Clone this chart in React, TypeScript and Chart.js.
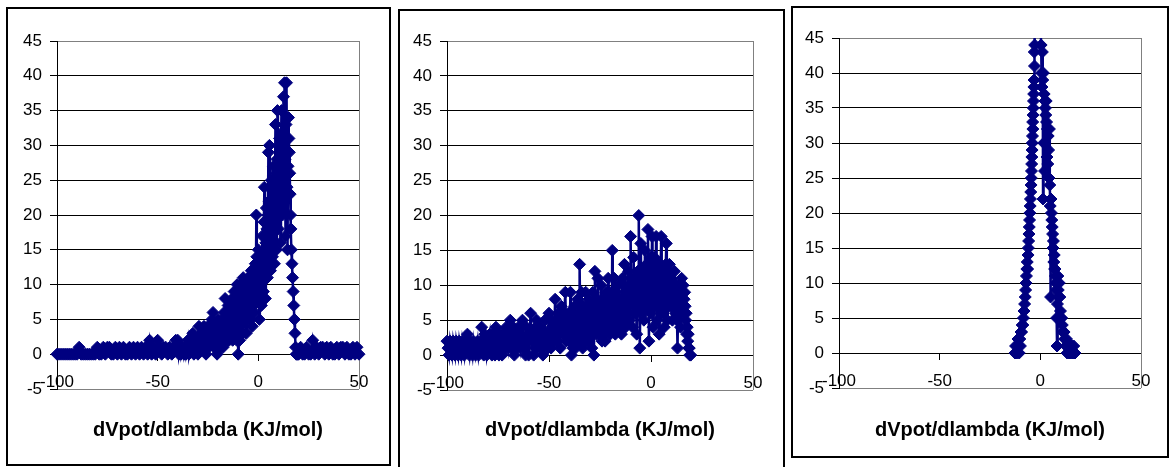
import React, { useEffect, useRef } from "react";
import { Chart, registerables } from "chart.js";

Chart.register(...registerables);

type Pt = [number, number];

// ---- shared axis data ----
const xTickValues = [-100, -50, 0, 50];
const yTickValues = [-5, 0, 5, 10, 15, 20, 25, 30, 35, 40, 45];
const axisTitle = "dVpot/dlambda (KJ/mol)";

// ---- panel 1 ----
const p1LeftTail: Pt[] = [
  [-100, 0], [-99, 0], [-98, 0], [-97, 0], [-96, 0], [-95, 0], [-94, 0], [-93, 0], [-92, 0], [-91, 0],
  [-90, 0], [-89, 1], [-88, 0], [-87, 0], [-86, 0], [-85, 0], [-84, 0], [-83, 0], [-82, 0], [-81, 0],
  [-80, 1], [-79, 0], [-78, 0], [-77, 1], [-76, 0], [-75, 1], [-74, 1], [-73, 0], [-72, 0], [-71, 1],
  [-70, 0], [-69, 1], [-68, 0], [-67, 1], [-66, 0], [-65, 0], [-64, 1], [-63, 0], [-62, 1], [-61, 0],
  [-60, 1], [-59, 0], [-58, 1], [-57, 0], [-56, 1], [-55, 0], [-54, 2], [-53, 0], [-52, 1], [-51, 0],
  [-50, 2], [-49, 1], [-48, 0], [-47, 1], [-46, 1], [-45, 0], [-44, 1], [-43, 0], [-42, 1], [-41, 2],
];
const p1Rise: Pt[] = [
  [-40, 2], [-39.5, 0], [-39, 1], [-38.5, 0], [-38, 1], [-37.5, 1], [-37, 0], [-36.5, 1], [-36, 0], [-35.5, 1],
  [-35, 2], [-34.5, 0], [-34, 1], [-33.5, 2], [-33, 1], [-32.5, 3], [-32, 0], [-31.5, 2], [-31, 1], [-30.5, 2],
  [-30, 0], [-29.5, 4], [-29, 1], [-28.5, 2], [-28, 3], [-27.5, 1], [-27, 4], [-26.5, 2], [-26, 0], [-25.5, 3],
  [-25, 4], [-24.5, 1], [-24, 3], [-23.5, 2], [-23, 5], [-22.5, 6], [-22, 1], [-21.5, 3], [-21, 4], [-20.5, 0],
  [-20, 5], [-19.75, 3], [-19.5, 2], [-19.25, 4], [-19, 4], [-18.75, 1], [-18.5, 3], [-18.25, 2], [-18, 5], [-17.75, 3],
  [-17.5, 1], [-17.25, 4], [-17, 6], [-16.75, 2], [-16.5, 8], [-16.25, 4], [-16, 3], [-15.75, 6], [-15.5, 5], [-15.25, 2],
  [-15, 7], [-14.75, 4], [-14.5, 2], [-14.25, 5], [-14, 6], [-13.75, 3], [-13.5, 4], [-13.25, 7], [-13, 8], [-12.75, 2],
  [-12.5, 5], [-12.25, 7], [-12, 9], [-11.75, 4], [-11.5, 3], [-11.25, 8], [-11, 7], [-10.75, 2], [-10.5, 10], [-10.25, 5],
  [-10, 0], [-9.75, 7], [-9.5, 6], [-9.25, 2], [-9, 10], [-8.75, 6], [-8.5, 4], [-8.25, 8], [-8, 9], [-7.75, 3],
  [-7.5, 11], [-7.25, 7], [-7, 5], [-6.75, 8], [-6.5, 10], [-6.25, 6], [-6, 3], [-5.75, 7], [-5.5, 9], [-5.25, 5],
  [-5, 11], [-4.75, 8], [-4.5, 6], [-4.25, 9], [-4, 10], [-3.75, 5], [-3.5, 12], [-3.25, 8],
];
const p1Peak: Pt[] = [
  [-3, 4], [-2.75, 9], [-2.5, 12], [-2.25, 7], [-2, 6], [-1.75, 10], [-1.5, 13], [-1.25, 9], [-1, 20], [-0.75, 14],
  [-0.5, 8], [-0.25, 12], [0, 15], [0.25, 10], [0.5, 5], [0.75, 11], [1, 14], [1.25, 9], [1.5, 7], [1.75, 13],
  [2, 17], [2.25, 12], [2.5, 9], [2.75, 19], [3, 24], [3.25, 15], [3.5, 8], [3.75, 16], [4, 21], [4.25, 18],
  [4.5, 11], [4.75, 20], [5, 29], [5.25, 22], [5.5, 30], [5.75, 19], [6, 12], [6.25, 18], [6.5, 25], [6.75, 20],
  [7, 14], [7.25, 22], [7.5, 27], [7.75, 19], [8, 13], [8.25, 24], [8.5, 33], [8.75, 26], [9, 15], [9.25, 28],
  [9.5, 35], [9.75, 24], [10, 18], [10.25, 27], [10.5, 31], [10.75, 22], [11, 16], [11.25, 30], [11.5, 35], [11.75, 26],
  [12, 20], [12.25, 32], [12.5, 37], [12.75, 29], [13, 39], [13.25, 28], [13.5, 17], [13.75, 33], [14, 39], [14.25, 24],
  [14.5, 15], [14.75, 27],
];
const p1Drop: Pt[] = [
  [15, 34], [15.2, 31], [15.4, 29], [15.6, 26], [15.8, 23], [16, 20], [16.2, 18], [16.4, 15], [16.7, 13],
  [17, 11], [17.3, 9], [17.6, 7], [17.9, 5], [18.2, 3], [18.5, 1], [18.8, 0], [19.2, 0], [19.6, 0],
];
const p1RightTail: Pt[] = [
  [20, 0], [21, 1], [22, 0], [23, 0], [24, 1], [25, 0], [26, 0], [27, 2], [28, 0], [29, 1],
  [30, 0], [31, 1], [32, 1], [33, 0], [34, 1], [35, 0], [36, 1], [37, 0], [38, 0], [39, 1],
  [40, 0], [41, 1], [42, 1], [43, 0], [44, 1], [45, 0], [46, 0], [47, 1], [48, 0], [49, 1], [50, 0],
];

// ---- panel 2 ----
const p2LeftTail: Pt[] = [
  [-100, 2], [-99.5, 1], [-99, 0], [-98.5, 2], [-98, 1], [-97.5, 0], [-97, 2], [-96.5, 1], [-96, 0], [-95.5, 2],
  [-95, 1], [-94.5, 0], [-94, 2], [-93.5, 1], [-93, 0], [-92.5, 2], [-92, 1], [-91.5, 0], [-91, 2], [-90.5, 1],
  [-90, 3], [-89.5, 1], [-89, 0], [-88.5, 2], [-88, 1], [-87.5, 0], [-87, 2], [-86.5, 1], [-86, 0], [-85.5, 1],
  [-85, 2], [-84.5, 0], [-84, 1], [-83.5, 2], [-83, 4], [-82.5, 1], [-82, 0], [-81.5, 3], [-81, 2], [-80.5, 0],
  [-80, 1], [-79.5, 2], [-79, 3], [-78.5, 1], [-78, 0], [-77.5, 3], [-77, 2], [-76.5, 0], [-76, 4], [-75.5, 2],
  [-75, 1], [-74.5, 0], [-74, 3], [-73.5, 2], [-73, 0], [-72.5, 3], [-72, 2], [-71.5, 1], [-71, 4], [-70.5, 2],
  [-70, 1], [-69.5, 3], [-69, 5], [-68.5, 1], [-68, 2], [-67.5, 4], [-67, 0], [-66.5, 2], [-66, 3], [-65.5, 1],
  [-65, 4], [-64.5, 2], [-64, 1], [-63.5, 3], [-63, 5], [-62.5, 1], [-62, 2], [-61.5, 0], [-61, 4], [-60.5, 2],
  [-60, 0], [-59.5, 3], [-59, 6], [-58.5, 2], [-58, 3], [-57.5, 0], [-57, 1], [-56.5, 4], [-56, 5], [-55.5, 1],
  [-55, 2], [-54.5, 3], [-54, 4], [-53.5, 1], [-53, 0], [-52.5, 3], [-52, 5], [-51.5, 2], [-51, 3], [-50.5, 1],
  [-50, 6], [-49.5, 3], [-49, 1], [-48.5, 5], [-48, 4], [-47.5, 2], [-47, 8], [-46.5, 3], [-46, 2], [-45.5, 6],
  [-45, 5], [-44.5, 1], [-44, 7], [-43.5, 4], [-43, 3], [-42.5, 6], [-42, 9], [-41.5, 2], [-41, 4], [-40.5, 6],
];
const p2Mid: Pt[] = [
  [-40, 2], [-39.75, 5], [-39.5, 9], [-39.25, 4], [-39, 0], [-38.75, 3], [-38.5, 6], [-38.25, 1], [-38, 3], [-37.75, 5],
  [-37.5, 7], [-37.25, 2], [-37, 1], [-36.75, 4], [-36.5, 5], [-36.25, 2], [-36, 8], [-35.75, 4], [-35.5, 2], [-35.25, 6],
  [-35, 13], [-34.75, 7], [-34.5, 4], [-34.25, 2], [-34, 9], [-33.75, 5], [-33.5, 1], [-33.25, 4], [-33, 7], [-32.75, 5],
  [-32.5, 3], [-32.25, 6], [-32, 9], [-31.75, 2], [-31.5, 5], [-31.25, 7], [-31, 2], [-30.75, 4], [-30.5, 8], [-30.25, 3],
  [-30, 4], [-29.75, 7], [-29.5, 6], [-29.25, 3], [-29, 1], [-28.75, 5], [-28.5, 9], [-28.25, 4], [-28, 0], [-27.75, 6],
  [-27.5, 12], [-27.25, 7], [-27, 5], [-26.75, 3], [-26.5, 8], [-26.25, 5], [-26, 11], [-25.75, 6], [-25.5, 3], [-25.25, 5],
  [-25, 7], [-24.75, 4], [-24.5, 10], [-24.25, 6], [-24, 2], [-23.75, 5], [-23.5, 8], [-23.25, 3], [-23, 5], [-22.75, 7],
  [-22.5, 2], [-22.25, 5], [-22, 9], [-21.75, 6], [-21.5, 4], [-21.25, 8], [-21, 11], [-20.75, 4], [-20.5, 6], [-20.25, 9],
  [-20, 3], [-19.75, 6], [-19.5, 8], [-19.25, 4], [-19, 15], [-18.75, 7], [-18.5, 5], [-18.25, 9], [-18, 11], [-17.75, 6],
  [-17.5, 3], [-17.25, 7], [-17, 9], [-16.75, 4], [-16.5, 6], [-16.25, 8], [-16, 10], [-15.75, 5], [-15.5, 4], [-15.25, 7],
  [-15, 8], [-14.75, 5], [-14.5, 3], [-14.25, 7], [-14, 11], [-13.75, 8], [-13.5, 6], [-13.25, 4], [-13, 13], [-12.75, 7],
  [-12.5, 4], [-12.25, 8], [-12, 9], [-11.75, 5], [-11.5, 7], [-11.25, 10], [-11, 12], [-10.75, 6], [-10.5, 5], [-10.25, 9],
];
const p2Peak: Pt[] = [
  [-10, 17], [-9.75, 11], [-9.5, 8], [-9.25, 10], [-9, 4], [-8.75, 9], [-8.5, 14], [-8.25, 7], [-8, 6], [-7.75, 11],
  [-7.5, 10], [-7.25, 6], [-7, 3], [-6.75, 8], [-6.5, 12], [-6.25, 9], [-6, 20], [-5.75, 10], [-5.5, 1], [-5.25, 7],
  [-5, 16], [-4.75, 10], [-4.5, 7], [-4.25, 12], [-4, 11], [-3.75, 6], [-3.5, 5], [-3.25, 9], [-3, 15], [-2.75, 10],
  [-2.5, 8], [-2.25, 13], [-2, 12], [-1.75, 7], [-1.5, 18], [-1.25, 9], [-1, 2], [-0.75, 8], [-0.5, 10], [-0.25, 14],
  [0, 6], [0.25, 10], [0.5, 17], [0.75, 9], [1, 4], [1.25, 8], [1.5, 11], [1.75, 14], [2, 7], [2.25, 10],
  [2.5, 17], [2.75, 12], [3, 5], [3.25, 9], [3.5, 13], [3.75, 8], [4, 3], [4.25, 10], [4.5, 9], [4.75, 13],
  [5, 17], [5.25, 11], [5.5, 6], [5.75, 10], [6, 12], [6.25, 8], [6.5, 4], [6.75, 9], [7, 10], [7.25, 13],
  [7.5, 16], [7.75, 9], [8, 5], [8.25, 8], [8.5, 9], [8.75, 12], [9, 13], [9.25, 8], [9.5, 7], [9.75, 10],
  [10, 11], [10.25, 8], [10.5, 5], [10.75, 9], [11, 8], [11.25, 10], [11.5, 12], [11.75, 7], [12, 6], [12.25, 9],
  [12.5, 10], [12.75, 5], [13, 1], [13.25, 6], [13.5, 7], [13.75, 10], [14, 9], [14.25, 6], [14.5, 4], [14.75, 8],
  [15, 11], [15.25, 9], [15.5, 8], [15.75, 10], [16, 6], [16.25, 8], [16.5, 9], [16.75, 7], [17, 5], [17.25, 6],
  [17.5, 3], [17.75, 4], [18, 2], [18.25, 3], [18.5, 1], [18.75, 1], [19, 0], [19.5, 0],
];

// ---- panel 3 ----
const p3Left: Pt[] = [
  [-12.6, 0], [-12.3, 1], [-12, 0], [-11.7, 1], [-11.4, 0], [-11.1, 2], [-10.8, 1], [-10.5, 0], [-10.2, 2], [-9.9, 1],
  [-9.6, 3], [-9.3, 3], [-9, 4], [-8.7, 4], [-8.4, 5], [-8.1, 6], [-7.8, 7], [-7.5, 8], [-7.3, 9], [-7.1, 10],
  [-6.9, 11], [-6.7, 12], [-6.5, 13], [-6.3, 12], [-6.1, 14], [-5.95, 15], [-5.8, 16], [-5.65, 17], [-5.5, 18], [-5.35, 19],
  [-5.2, 20], [-5.05, 21], [-4.9, 22], [-4.75, 23], [-4.6, 24], [-4.5, 25], [-4.4, 26], [-4.3, 27], [-4.2, 28], [-4.1, 29],
  [-4, 30], [-3.9, 31], [-3.8, 33], [-3.7, 32], [-3.6, 34], [-3.5, 35], [-3.4, 36], [-3.3, 37], [-3.2, 38], [-3.1, 39],
  [-3, 43], [-2.9, 41], [-2.8, 44],
];
const p3Top: Pt[] = [
  [-2.6, 48], [-2.3, 53], [-2, 58], [-1.6, 61], [-1.2, 63], [-0.8, 60], [-0.4, 55], [0, 49],
];
const p3Right: Pt[] = [
  [0.2, 46], [0.4, 44], [0.6, 40], [0.8, 38], [1, 43], [1.2, 39], [1.35, 22], [1.5, 40], [1.7, 30], [1.9, 37],
  [2.1, 26], [2.3, 36], [2.5, 35], [2.7, 34], [2.9, 36], [3.1, 33], [3.3, 28], [3.5, 32], [3.7, 27], [3.9, 31],
  [4.1, 29], [4.3, 25], [4.5, 32], [4.7, 24], [4.9, 21], [5.1, 8], [5.3, 22], [5.5, 20], [5.7, 19], [5.9, 18],
  [6.1, 17], [6.3, 15], [6.5, 16], [6.7, 13], [6.9, 14], [7.1, 12], [7.3, 12], [7.5, 11], [7.7, 10], [7.9, 9],
  [8.1, 5], [8.3, 1], [8.5, 7], [8.7, 11], [8.9, 9], [9.1, 8], [9.4, 10], [9.7, 8], [10, 6], [10.3, 5],
  [10.6, 5], [10.9, 4], [11.2, 3], [11.5, 3], [11.8, 3], [12.1, 2], [12.4, 2], [12.7, 1], [13, 2], [13.3, 0],
  [13.6, 1], [13.9, 1], [14.2, 0], [14.5, 1], [14.8, 0], [15.1, 1], [15.4, 0], [15.7, 1], [16, 0], [16.3, 0],
  [16.6, 1], [16.9, 0], [17.2, 0],
];

const panel1Points: Pt[] = [...p1LeftTail, ...p1Rise, ...p1Peak, ...p1Drop, ...p1RightTail];
const panel2Points: Pt[] = [...p2LeftTail, ...p2Mid, ...p2Peak];
const panel3Points: Pt[] = [...p3Left, ...p3Top, ...p3Right];

// ---- layout / style ----
const NAVY = "#000080";
const FONT = '"Liberation Sans", Arial, Helvetica, sans-serif';

interface Layout {
  box: { left: number; top: number; width: number; height: number };
  canvas: { left: number; top: number; width: number; height: number };
  yAxisWidth: number;
  padTop: number;
  padRight: number;
  titlePadTop: number;
  titlePadBottom: number;
}

const layouts: Layout[] = [
  {
    box: { left: 6, top: 7, width: 385, height: 459 },
    canvas: { left: 8, top: 9, width: 380, height: 455 },
    yAxisWidth: 49, padTop: 32, padRight: 29, titlePadTop: 29, titlePadBottom: 22,
  },
  {
    box: { left: 398, top: 9, width: 387, height: 470 },
    canvas: { left: 400, top: 11, width: 382, height: 456 },
    yAxisWidth: 47, padTop: 30, padRight: 29, titlePadTop: 28, titlePadBottom: 25,
  },
  {
    box: { left: 791, top: 6, width: 378, height: 452 },
    canvas: { left: 793, top: 8, width: 373, height: 447 },
    yAxisWidth: 46, padTop: 30, padRight: 25, titlePadTop: 30, titlePadBottom: 13,
  },
];

const plotBorderPlugin = {
  id: "plotBorder",
  beforeDatasetsDraw(chart: any) {
    const { ctx, chartArea: a } = chart;
    ctx.save();
    ctx.strokeStyle = "#808080";
    ctx.lineWidth = 1;
    ctx.beginPath();
    const rx = Math.round(a.right) + 0.5;
    ctx.moveTo(rx, a.top);
    ctx.lineTo(rx, a.bottom);
    ctx.stroke();
    ctx.restore();
  },
};

function Panel({ points, layout }: { points: Pt[]; layout: Layout }) {
  const ref = useRef<HTMLCanvasElement | null>(null);
  useEffect(() => {
    if (!ref.current) return;
    const tickFont = { family: FONT, size: 17 };
    const chart = new Chart(ref.current, {
      type: "scatter",
      data: {
        datasets: [
          {
            data: points.map(([x, y]) => ({ x, y })),
            showLine: true,
            borderColor: NAVY,
            backgroundColor: NAVY,
            borderWidth: 2.5,
            tension: 0,
            pointStyle: "rectRot",
            pointRadius: 6,
            pointBorderWidth: 1,
            pointBackgroundColor: NAVY,
            pointBorderColor: NAVY,
            clip: { left: 8, right: 8, top: 0, bottom: 8 },
          } as any,
        ],
      },
      options: {
        responsive: false,
        animation: false,
        devicePixelRatio: 1,
        events: [],
        layout: { padding: { left: 0, top: layout.padTop, right: layout.padRight, bottom: 0 } },
        plugins: {
          legend: { display: false },
          tooltip: { enabled: false },
          title: {
            display: true,
            text: axisTitle,
            position: "bottom",
            fullSize: false,
            color: "#000",
            font: { family: FONT, size: 20, weight: "bold" },
            padding: { top: layout.titlePadTop, bottom: layout.titlePadBottom },
          },
        },
        scales: {
          x: {
            type: "linear",
            position: { y: 0 } as any,
            min: -100,
            max: 50,
            afterBuildTicks: (s: any) => {
              s.ticks = xTickValues.map((v) => ({ value: v }));
            },
            afterFit: (s: any) => {
              s.height = 0;
            },
            grid: { drawOnChartArea: false, drawTicks: true, tickLength: 6, tickColor: "#000", color: "#000" },
            border: { display: true, color: "#000", width: 1 },
            ticks: { padding: 12, color: "#000", font: tickFont, maxRotation: 0, autoSkip: false },
          },
          y: {
            type: "linear",
            position: "left",
            min: -5,
            max: 45,
            afterBuildTicks: (s: any) => {
              s.ticks = yTickValues.map((v) => ({ value: v }));
            },
            afterFit: (s: any) => {
              s.width = layout.yAxisWidth;
            },
            grid: {
              color: (c: any) => (c.tick && (c.tick.value === 45 || c.tick.value === -5) ? "#808080" : "#000"),
              lineWidth: 1,
              drawTicks: true,
              tickLength: 7,
              tickColor: "#000",
            },
            border: { display: true, color: "#000", width: 1 },
            ticks: { padding: 8, color: "#000", font: tickFont, autoSkip: false },
          },
        },
      } as any,
      plugins: [plotBorderPlugin],
    });
    return () => chart.destroy();
  }, [points, layout]);
  const c = layout.canvas;
  return (
    <canvas
      ref={ref}
      width={c.width}
      height={c.height}
      style={{ position: "absolute", left: c.left, top: c.top, width: c.width, height: c.height }}
    />
  );
}

const panelPoints = [panel1Points, panel2Points, panel3Points];

export default function App() {
  return (
    <div
      style={{
        position: "absolute",
        left: 0,
        top: 0,
        width: 1169,
        height: 467,
        overflow: "hidden",
        background: "#fff",
      }}
    >
      {layouts.map((l, i) => (
        <div
          key={"box" + i}
          style={{
            position: "absolute",
            left: l.box.left,
            top: l.box.top,
            width: l.box.width,
            height: l.box.height,
            border: "2px solid #000",
            boxSizing: "border-box",
          }}
        />
      ))}
      {layouts.map((l, i) => (
        <Panel key={"p" + i} points={panelPoints[i]} layout={l} />
      ))}
    </div>
  );
}
